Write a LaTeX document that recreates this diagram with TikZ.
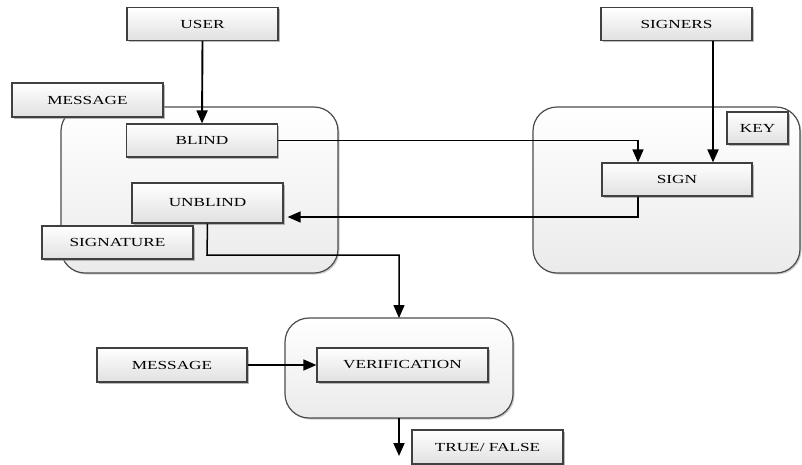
\documentclass[tikz,border=0pt]{standalone}
\usepackage{fontspec}
\newfontfamily\boxfont[FakeStretch=1.4]{Liberation Serif}
\usetikzlibrary{arrows.meta,shadows,calc}
\begin{document}
\begin{tikzpicture}[x=1pt,y=-1pt,
  box/.style={draw=black!75, line width=1.2pt, top color=white, bottom color=black!12,
    drop shadow={shadow xshift=1.5pt, shadow yshift=-1.5pt, fill=black!45, opacity=0.6},
    minimum width=151pt, minimum height=33pt, inner sep=0pt,
    font=\boxfont\fontsize{12.3}{14}\selectfont},
  cont/.style={draw=black!70, line width=1.2pt, rounded corners=24pt, top color=white, bottom color=black!8,
    drop shadow={shadow xshift=1.5pt, shadow yshift=-1.5pt, fill=black!40, opacity=0.5}},
  flow/.style={draw=black, line width=1.9pt, -{Triangle[length=13pt,width=11pt]}},
  plain/.style={draw=black, line width=1.9pt}]
\useasboundingbox (0,0) rectangle (802,464);
% containers
\draw[cont] (61,107) rectangle (338,273);
\draw[cont] (533,107) rectangle (800,273);
\draw[cont] (285,318) rectangle (513,418);
\coordinate (lcTop) at (399,318);
\coordinate (lcBot) at (399,418);
\coordinate (tfEnd) at (399,456);
% boxes
\node[box] (user) at (202.5,24) {USER};
\node[box, minimum height=34pt] (msg1) at (87.5,100) {MESSAGE};
\node[box] (blind) at (202,140.5) {BLIND};
\node[box, minimum height=40pt] (unblind) at (207.5,203) {UNBLIND};
\node[box] (signature) at (117.5,242.5) {SIGNATURE};
\node[box] (signers) at (676.5,24) {SIGNERS};
\node[box, minimum width=61pt, minimum height=32pt] (key) at (757.5,128) {KEY};
\node[box, minimum width=150pt] (sign) at (677,179.5) {SIGN};
\node[box, minimum width=150pt, minimum height=34pt] (msg2) at (172,365) {MESSAGE};
\node[box, minimum width=171pt, minimum height=34pt] (verif) at (402.5,365) {VERIFICATION};
\node[box, minimum height=34pt] (tf) at (487.5,447) {TRUE/ FALSE};
% connectors
\draw[flow, line width=1.5pt] (blind.east) -- (638,140.5) -- ([xshift=-39pt]sign.north);
\draw[flow] (user.south) -- (blind.north);
\draw[flow] ([xshift=36.5pt]signers.south) -- ([xshift=36pt]sign.north);
\draw[flow, line width=1.5pt] ([xshift=-39pt]sign.south) -- (638,217) -- ([xshift=4pt]unblind.east |- 0,217);
\draw[flow, line width=1.5pt] (unblind.south) -- (207,255) -- (399,255) -- (lcTop);
\draw[flow, line width=1.5pt] (msg2.east) -- (verif.west);
\draw[flow] (lcBot) -- (tfEnd);
\end{tikzpicture}
\end{document}
